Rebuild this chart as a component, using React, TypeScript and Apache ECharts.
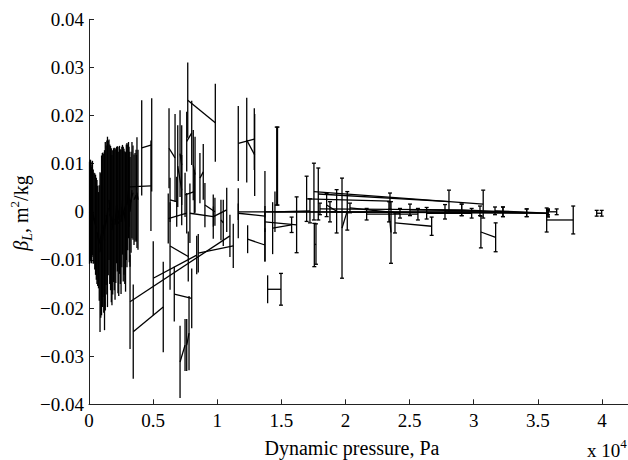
import React, { useEffect, useRef } from "react";
import * as echarts from "echarts";

// Each pair: [x1 (Pa), beta1, err1, x2 (Pa), beta2, err2]
const clusterPairs: number[][] = [
  [40, -0.0002, 0.0106, 120, 0.0004, 0.0104],
  [200, -0.0007, 0.01, 270, 0.0008, 0.0098],
  [390, -0.0013, 0.0094, 510, -0.0027, 0.0104],
  [620, -0.0042, 0.0108, 740, -0.0059, 0.01],
  [860, -0.0084, 0.0166, 980, -0.0049, 0.0166],
  [1090, -0.0027, 0.015, 1210, -0.0059, 0.0187],
  [1330, -0.0007, 0.0145, 1440, -0.0021, 0.0177],
  [1560, 0.0025, 0.0125, 1680, -0.0013, 0.015],
  [1790, -0.0038, 0.0156, 1910, -0.0007, 0.0139],
  [2030, -0.0027, 0.0156, 2150, 0.0014, 0.0121],
  [2260, -0.0017, 0.0152, 2380, 0.0004, 0.0133],
  [2500, -0.0021, 0.015, 2610, 0.0025, 0.0114],
  [2730, 0.0, 0.0131, 2850, -0.0021, 0.0145],
  [2960, 0.0014, 0.0129, 3080, 0.0045, 0.01],
  [3200, 0.0, 0.0114, 3350, 0.0045, 0.01],
  [3510, 0.0025, 0.0094, 3670, 0.0035, 0.0094],
  [80, 0.0003, 0.0105, 330, -0.001, 0.0098],
  [160, -0.0004, 0.0102, 450, -0.002, 0.01],
  [235, 0.0005, 0.0099, 570, -0.0035, 0.0106],
  [680, -0.005, 0.0104, 920, -0.007, 0.015],
  [800, -0.0065, 0.012, 1040, -0.0038, 0.016],
  [1150, -0.0045, 0.0165, 1390, -0.0012, 0.016],
  [1270, -0.003, 0.0175, 1500, 0.0008, 0.014],
  [1620, -0.0005, 0.0145, 1850, -0.0022, 0.015],
  [1740, -0.0028, 0.016, 1970, -0.0015, 0.0148],
  [2090, -0.0008, 0.014, 2320, -0.0025, 0.015],
  [2210, 0.0006, 0.013, 2440, -0.001, 0.014],
  [2560, 0.001, 0.0125, 2790, -0.0012, 0.0138],
  [2670, -0.0005, 0.014, 2910, 0.002, 0.012],
  [3020, 0.003, 0.011, 3280, 0.002, 0.0105],
  [3140, 0.001, 0.0115, 3430, 0.004, 0.0098],
  [3590, 0.003, 0.0092, 3700, 0.0028, 0.009],
];

const upperPairs: number[][] = [
  [7700, 0.0232, 0.0078, 9850, 0.0185, 0.0081],
  [11640, 0.0142, 0.0078, 12890, 0.0151, 0.0064],
  [12300, 0.0149, 0.0088, 12920, 0.0118, 0.0085],
  [4110, 0.0133, 0.0099, 4890, 0.0139, 0.0097],
  [3120, 0.0052, 0.0083, 4830, 0.0054, 0.0094],
  [3740, 0.004, 0.0115, 3820, 0.0025, 0.0104],
  [6240, 0.0132, 0.0083, 6710, 0.0112, 0.0091],
  [6920, 0.0095, 0.0085, 7230, 0.0045, 0.0073],
  [7620, 0.0146, 0.0062, 8010, 0.0164, 0.0067],
  [8650, 0.007, 0.0052, 8910, 0.0083, 0.0058],
  [6320, 0.0025, 0.0046, 6840, 0.0021, 0.0052],
  [7100, 0.0121, 0.009, 7230, 0.0097, 0.0083],
  [8130, 0.0097, 0.0073, 8270, 0.0077, 0.0079],
  [7490, 0.0035, 0.0046, 8210, 0.0042, 0.0045],
  [9040, 0.0014, 0.0046, 9820, 0.0, 0.0029],
  [10470, -0.0023, 0.0048, 10290, -0.0017, 0.0042],
  [6180, -0.0014, 0.0052, 7620, -0.0003, 0.0042],
  [7870, -0.0003, 0.0062, 9690, -0.001, 0.0046],
  [9700, -0.001, 0.0021, 10740, 0.0004, 0.0046],
  [14640, 0.0095, 0.0081, 14700, 0.0095, 0.0081],
];

const lowerPairs: number[][] = [
  [3200, -0.0187, 0.0098, 10990, -0.005, 0.0044],
  [3450, -0.0249, 0.0098, 5790, -0.0198, 0.0094],
  [5010, -0.0138, 0.0077, 8400, -0.009, 0.004],
  [8520, -0.0086, 0.004, 11250, -0.0071, 0.0046],
  [6320, -0.0071, 0.0091, 7740, -0.0093, 0.0052],
  [6650, -0.0171, 0.0057, 8010, -0.018, 0.0062],
  [7100, -0.0312, 0.0075, 7490, -0.0277, 0.0054],
  [7620, -0.0277, 0.0054, 7800, -0.0252, 0.0077],
  [12370, -0.0057, 0.0029, 13720, -0.0069, 0.0035],
  [11640, -0.0003, 0.0052, 13720, -0.0009, 0.0094],
  [14320, -0.0034, 0.0054, 15800, -0.0027, 0.0016],
  [14500, 0.0, 0.0042, 17230, 0.0002, 0.0025],
  [13720, -0.0021, 0.0021, 16190, -0.0027, 0.0058],
  [13930, -0.0161, 0.0029, 14970, -0.0161, 0.0033],
];

const highPressurePairs: number[][] = [
  [16970, 0.0027, 0.0047, 23470, 0.0022, 0.0017],
  [17540, 0.0042, 0.0059, 30740, 0.0016, 0.0029],
  [17880, 0.0037, 0.0054, 28070, 0.0021, 0.0024],
  [17570, -0.0069, 0.0045, 17700, -0.0067, 0.0042],
  [18530, 0.0014, 0.0024, 19310, 0.0001, 0.0045],
  [19730, -0.0034, 0.0104, 20140, 0.0002, 0.004],
  [23390, 0.0, 0.0021, 23550, -0.0043, 0.0064],
  [23860, -0.0023, 0.0021, 26720, -0.003, 0.0019],
  [30560, -0.0042, 0.0033, 31710, -0.0053, 0.003],
  [35690, -0.0017, 0.0025, 37760, -0.0017, 0.0029],
  [39590, -0.0003, 0.0006, 39980, -0.0003, 0.0006],
  [35790, 0.0, 0.0006, 36470, 0.0, 0.0006],
  [20350, 0.0008, 0.001, 24250, -0.0003, 0.001],
  [21650, -0.0005, 0.0012, 25650, -0.0005, 0.0012],
  [25030, 0.0004, 0.0012, 30490, 0.0002, 0.001],
  [26330, -0.0003, 0.0012, 29840, -0.0003, 0.001],
  [27760, 0.0, 0.0015, 32280, 0.0, 0.001],
  [29060, 0.0004, 0.0012, 34130, -0.0002, 0.0008],
  [31660, 0.0002, 0.0008, 35790, -0.0003, 0.0006],
  [11640, 0.0, 0.0017, 32280, 0.0, 0.001],
  [13720, 0.0, 0.0012, 34130, -0.0002, 0.0008],
  [18010, 0.0006, 0.0012, 29060, 0.0004, 0.0012],
  [18790, 0.0, 0.0021, 35790, -0.0003, 0.0008],
];

const X_MIN = 0;
const X_MAX = 42000;
const X_STEP = 5000;
const Y_MIN = -0.04;
const Y_MAX = 0.04;
const Y_STEP = 0.01;
const CAP_FROM_X = 14600;

const xTitle = "Dynamic pressure, Pa";
const yTitle = "{b|β}{s|L}{n|, m}{p|2}{n|/kg}";
const xScaleNote = "{n|x 10}{p|4}";

const FONT = "Liberation Serif";
const LW = 1.3;

export default function App() {
  const ref = useRef<HTMLDivElement>(null);

  useEffect(() => {
    if (!ref.current) return;
    const chart = echarts.init(ref.current, null, { renderer: "svg" });
    const allPairs = [...clusterPairs, ...upperPairs, ...lowerPairs, ...highPressurePairs];

    const renderItem = (_params: any, api: any) => {
      const x1 = api.value(0), y1 = api.value(1), e1 = api.value(2);
      const x2 = api.value(3), y2 = api.value(4), e2 = api.value(5);
      const a = api.coord([x1, y1]);
      const b = api.coord([x2, y2]);
      const style = { stroke: "#000", lineWidth: LW };
      const children: any[] = [
        { type: "line", shape: { x1: a[0], y1: a[1], x2: b[0], y2: b[1] }, style },
      ];
      const bar = (x: number, y: number, e: number) => {
        const lo = api.coord([x, y - e]);
        const hi = api.coord([x, y + e]);
        children.push({ type: "line", shape: { x1: lo[0], y1: lo[1], x2: hi[0], y2: hi[1] }, style });
        if (x >= CAP_FROM_X) {
          children.push({ type: "line", shape: { x1: lo[0] - 2, y1: lo[1], x2: lo[0] + 2, y2: lo[1] }, style });
          children.push({ type: "line", shape: { x1: hi[0] - 2, y1: hi[1], x2: hi[0] + 2, y2: hi[1] }, style });
        }
      };
      bar(x1, y1, e1);
      bar(x2, y2, e2);
      return { type: "group", children };
    };

    chart.setOption({
      animation: false,
      backgroundColor: "#fff",
      textStyle: { fontFamily: FONT, color: "#000" },
      grid: { left: 89, top: 19.3, width: 538.6, height: 385, containLabel: false },
      xAxis: {
        type: "value",
        min: X_MIN,
        max: X_MAX,
        interval: X_STEP,
        axisLine: { show: true, onZero: false, lineStyle: { color: "#222", width: 1 } },
        axisTick: { show: true, inside: true, length: 5, lineStyle: { color: "#222", width: 1 } },
        splitLine: { show: false },
        axisLabel: {
          fontFamily: FONT,
          fontSize: 19,
          color: "#000",
          margin: 7,
          showMaxLabel: false,
          formatter: (v: number) => (v % X_STEP === 0 ? String(+(v / 10000).toFixed(1)) : ""),
        },
      },
      yAxis: {
        type: "value",
        min: Y_MIN,
        max: Y_MAX,
        interval: Y_STEP,
        axisLine: { show: true, onZero: false, lineStyle: { color: "#222", width: 1 } },
        axisTick: { show: true, inside: true, length: 5, lineStyle: { color: "#222", width: 1 } },
        splitLine: { show: false },
        axisLabel: {
          fontFamily: FONT,
          fontSize: 19,
          color: "#000",
          margin: 5,
          formatter: (v: number) =>
            Math.abs(v) < 1e-9 ? "0" : (v < 0 ? "\u2212" : "") + Math.abs(v).toFixed(2),
        },
      },
      graphic: [
        {
          type: "text",
          x: 352,
          y: 448,
          style: { text: xTitle, fontFamily: FONT, fontSize: 20, fill: "#000", align: "center", verticalAlign: "middle" },
        },
        {
          type: "text",
          x: 587,
          y: 450,
          style: {
            text: xScaleNote,
            align: "left",
            verticalAlign: "middle",
            rich: {
              n: { fontFamily: FONT, fontSize: 19, lineHeight: 26, fill: "#000" },
              p: { fontFamily: FONT, fontSize: 13, lineHeight: 13, verticalAlign: "top", fill: "#000" },
            },
          },
        },
        {
          type: "text",
          x: 21,
          y: 213,
          rotation: Math.PI / 2,
          style: {
            text: yTitle,
            align: "center",
            verticalAlign: "middle",
            rich: {
              b: { fontFamily: FONT, fontStyle: "italic", fontSize: 20, lineHeight: 26, fill: "#000" },
              s: { fontFamily: FONT, fontStyle: "italic", fontSize: 14, lineHeight: 14, verticalAlign: "bottom", fill: "#000" },
              n: { fontFamily: FONT, fontSize: 20, lineHeight: 26, fill: "#000" },
              p: { fontFamily: FONT, fontSize: 13, lineHeight: 13, verticalAlign: "top", fill: "#000" },
            },
          },
        },
      ],
      series: [
        {
          type: "custom",
          renderItem,
          data: allPairs,
          silent: true,
          encode: { x: [0, 3], y: [1, 4] },
        },
      ],
    });
    return () => chart.dispose();
  }, []);

  return (
    <div
      ref={ref}
      style={{ position: "absolute", left: 0, top: 0, width: 628, height: 460, background: "#fff" }}
    />
  );
}
